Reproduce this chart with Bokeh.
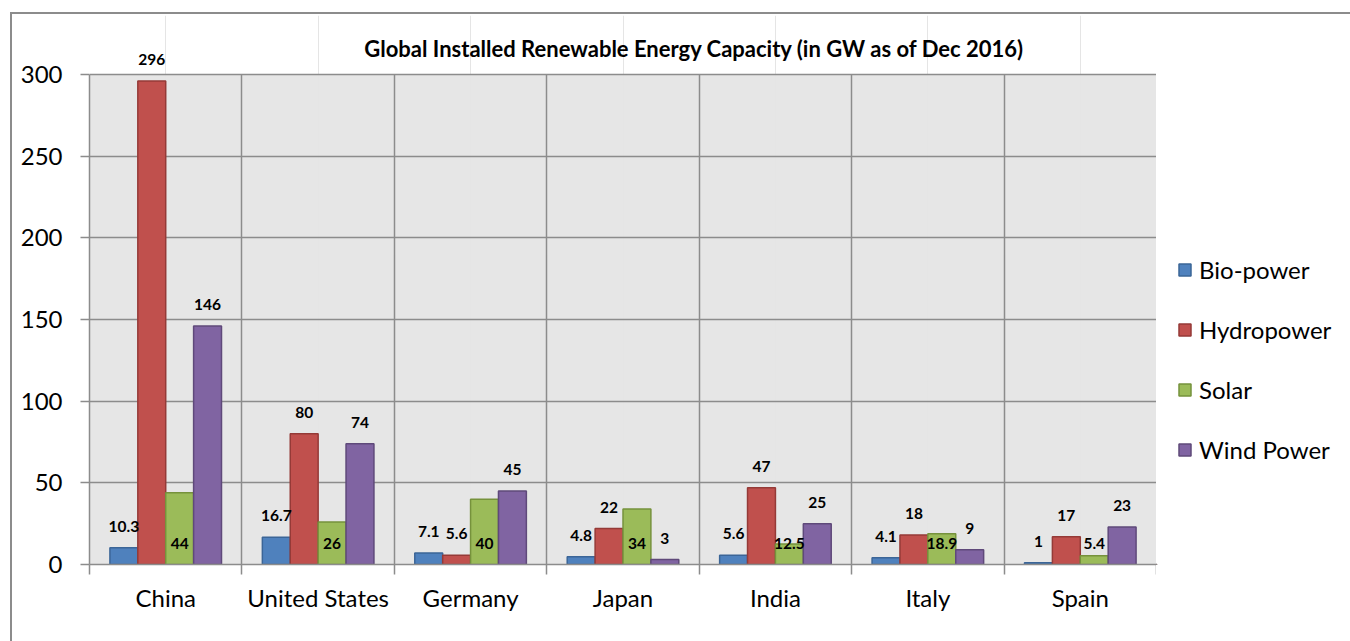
from bokeh.plotting import figure
from bokeh.layouts import row
from bokeh.core.properties import value
from bokeh.models import (FactorRange, Range1d, LinearAxis, CategoricalAxis, Grid, BoxAnnotation,
                          FixedTicker, ColumnDataSource, LabelSet, Label, Legend, LegendItem)
from bokeh.transform import dodge
from bokeh.embed import file_html
from bokeh.resources import INLINE

countries = ["China", "United States", "Germany", "Japan", "India", "Italy", "Spain"]
series = ["Bio-power", "Hydropower", "Solar", "Wind Power"]
bio = [10.3, 16.7, 7.1, 4.8, 5.6, 4.1, 1]
hydro = [296, 80, 5.6, 22, 47, 18, 17]
solar = [44, 26, 40, 34, 12.5, 18.9, 5.4]
wind = [146, 74, 45, 3, 25, 9, 23]
bio_lbl = ["10.3", "16.7", "7.1", "4.8", "5.6", "4.1", "1"]
hydro_lbl = ["296", "80", "5.6", "22", "47", "18", "17"]
solar_lbl = ["44", "26", "40", "34", "12.5", "18.9", "5.4"]
wind_lbl = ["146", "74", "45", "3", "25", "9", "23"]
y_ticks = [0, 50, 100, 150, 200, 250, 300]
y_max = 300
title_text = "Global Installed Renewable Energy Capacity (in GW as of Dec 2016)"

fills = ["#4F81BD", "#C0504D", "#9BBB59", "#8064A2"]
lines = ["#3B6597", "#953A37", "#76923C", "#5F497A"]
GRID = "#8c8c8c"
FONT = "Lato"

# category boundaries in the factor range's synthetic coordinates
bounds = list(range(len(countries) + 1))

W1, W2, H = 1144, 194, 627
p = figure(x_range=FactorRange(factors=countries, range_padding=0),
           y_range=Range1d(0, 336.1), width=W1, height=H,
           output_backend="svg", toolbar_location=None,
           x_axis_location=None, y_axis_location=None,
           min_border_left=77, min_border_right=0, min_border_top=1, min_border_bottom=77)
p.background_fill_color = "white"
p.border_fill_color = "white"
p.outline_line_color = None

p.add_layout(BoxAnnotation(bottom=0, top=y_max, fill_color="#e6e6e6", fill_alpha=1,
                           line_color=None, level="image"))

# y axis
yaxis = LinearAxis(ticker=FixedTicker(ticks=y_ticks, minor_ticks=[]), bounds=(0, y_max))
yaxis.axis_line_color = GRID
yaxis.axis_line_width = 1.5
yaxis.major_tick_line_color = GRID
yaxis.major_tick_line_width = 1.5
yaxis.major_tick_in = 0
yaxis.major_tick_out = 9
yaxis.minor_tick_line_color = None
yaxis.major_label_text_font = FONT
yaxis.major_label_text_font_size = "24px"
yaxis.major_label_text_color = "black"
yaxis.major_label_standoff = 18
p.add_layout(yaxis, "left")

# boundary tick axis
bnd = LinearAxis(ticker=FixedTicker(ticks=bounds, minor_ticks=[]))
bnd.axis_line_color = GRID
bnd.axis_line_width = 1.5
bnd.major_tick_line_color = GRID
bnd.major_tick_line_width = 1.5
bnd.major_tick_in = 0
bnd.major_tick_out = 10
bnd.minor_tick_line_color = None
bnd.major_label_text_font_size = "1px"
bnd.major_label_text_alpha = 0
bnd.major_label_standoff = 0
p.add_layout(bnd, "below")

xaxis = CategoricalAxis()
xaxis.axis_line_color = None
xaxis.major_tick_line_color = None
xaxis.major_label_text_font = FONT
xaxis.major_label_text_font_size = "24px"
xaxis.major_label_text_color = "black"
xaxis.major_label_standoff = 2
p.add_layout(xaxis, "below")

p.add_layout(Grid(dimension=1, ticker=FixedTicker(ticks=y_ticks), grid_line_color=GRID, grid_line_width=1.5))
p.add_layout(Grid(dimension=0, ticker=FixedTicker(ticks=bounds), cross_bounds=(0, y_max),
                  grid_line_color=GRID, grid_line_width=1.5))

src = ColumnDataSource(dict(country=countries, bio=bio, hydro=hydro, solar=solar, wind=wind,
                            bio_l=bio_lbl, hydro_l=hydro_lbl, solar_l=solar_lbl, wind_l=wind_lbl,
                            zero=[0] * len(countries)))

bw = 0.183
offsets = [-1.5 * bw, -0.5 * bw, 0.5 * bw, 1.5 * bw]
cols = ["bio", "hydro", "solar", "wind"]
for i, c in enumerate(cols):
    p.vbar(x=dodge("country", offsets[i], range=p.x_range), top=c, width=bw, source=src,
           fill_color=fills[i], line_color=lines[i], line_width=1.5)
    ycol = "zero" if c == "solar" else c
    ls = LabelSet(x=dodge("country", offsets[i], range=p.x_range), y=ycol, text=c + "_l", source=src,
                  text_align="center", text_baseline="alphabetic", y_offset=16,
                  text_font=value(FONT), text_font_style="bold", text_font_size="15.5px",
                  text_color="black")
    p.add_layout(ls)

p.add_layout(Label(x=3.969, y=315.9, text=title_text, text_align="center", text_baseline="alphabetic",
                   text_font=FONT, text_font_style="bold", text_font_size="22px", text_color="black"))

# legend panel (separate small figure; its swatch renderers sit outside the visible range)
p2 = figure(width=W2, height=H, output_backend="svg", toolbar_location=None,
            x_range=Range1d(0, 1), y_range=Range1d(0, 1),
            x_axis_location=None, y_axis_location=None,
            min_border_left=0, min_border_right=0, min_border_top=0, min_border_bottom=0)
p2.outline_line_color = None
p2.xgrid.visible = False
p2.ygrid.visible = False
p2.background_fill_color = "white"
p2.border_fill_color = "white"
swatch = ColumnDataSource(dict(x=[-5], top=[-5]))
items = []
for i, s in enumerate(series):
    r = p2.vbar(x="x", top="top", bottom=-6, width=1, source=swatch, fill_color=fills[i],
                line_color=lines[i], line_width=1.5)
    items.append(LegendItem(label=s, renderers=[r], index=0))

legend = Legend(items=items, location=(21, 100), orientation="vertical",
                glyph_width=15, glyph_height=15, label_height=30, spacing=30, label_standoff=7,
                padding=0, margin=0, border_line_color=None, background_fill_alpha=0,
                label_text_font=FONT, label_text_font_size="24px", label_text_color="black",
                label_text_baseline="middle")
p2.add_layout(legend)

layout = row(p, p2, spacing=0)
layout.styles = {"margin-left": "10px", "margin-top": "12px",
                 "border-left": "2px solid #8c8c8c", "border-top": "2px solid #8c8c8c"}

open("out.html", "w").write(file_html(layout, INLINE))
